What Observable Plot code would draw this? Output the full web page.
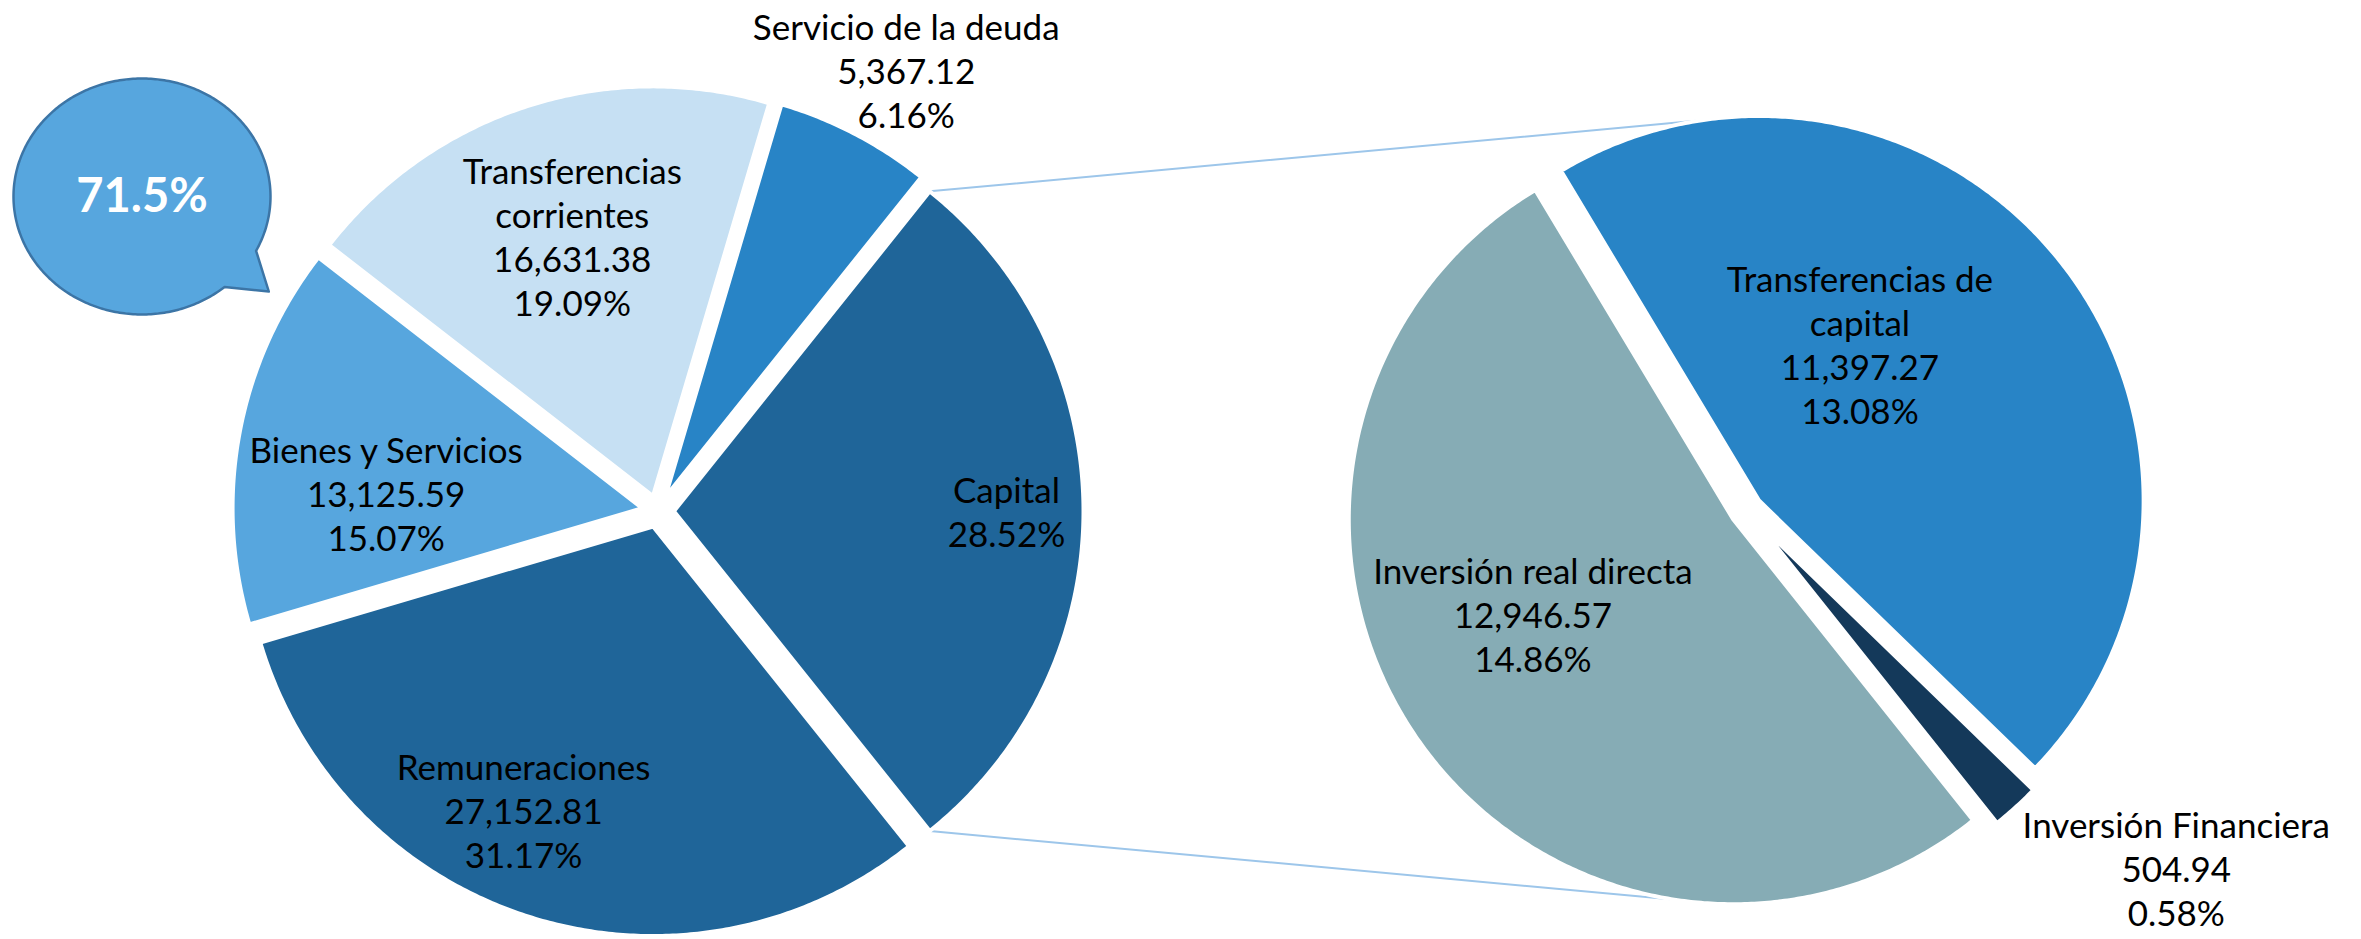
<!DOCTYPE html>
<html><head><meta charset="utf-8">
<script src="https://cdn.jsdelivr.net/npm/d3@7"></script>
<script src="https://cdn.jsdelivr.net/npm/@observablehq/plot@0.6"></script>
<style>body{margin:0;background:#fff}#chart svg{display:block}</style>
</head><body><div id="chart"></div>
<script>
// ---------- DATA ----------
const mainCategories = ["Remuneraciones", "Bienes y Servicios", "Transferencias corrientes", "Servicio de la deuda"];
const mainValues = [27152.81, 13125.59, 16631.38, 5367.12];
const capitalCategories = ["Transferencias de capital", "Inversión Financiera", "Inversión real directa"];
const capitalValues = [11397.27, 504.94, 12946.57];
const otherName = "Capital";

// ---------- STYLE / LAYOUT ----------
const W = 2361, H = 939;
const displayNames = {
  "Transferencias corrientes": "Transferencias\ncorrientes",
  "Transferencias de capital": "Transferencias de\ncapital"
};
const colors = {
  "Capital": "#1f6599",
  "Remuneraciones": "#1f6599",
  "Bienes y Servicios": "#57a6de",
  "Transferencias corrientes": "#c6e0f3",
  "Servicio de la deuda": "#2884c6",
  "Transferencias de capital": "#2884c6",
  "Inversión Financiera": "#14395a",
  "Inversión real directa": "#86acb5"
};
// label placement: [angle offset from slice bisector (deg), radius fraction]
const labelPlace = {
  "Capital": [0, 0.851],
  "Remuneraciones": [6.8, 0.799],
  "Bienes y Servicios": [-6.8, 0.665],
  "Transferencias corrientes": [0.6, 0.704],
  "Servicio de la deuda": [1.8, 1.236],
  "Transferencias de capital": [-17.3, 0.524],
  "Inversión Financiera": [-8.0, 1.454],
  "Inversión real directa": [8.95, 0.617]
};
const leftPie = {cx: 657.4, cy: 510.7, r: 409.6};
const rightPie = {cx: 1746, cy: 510, r: 384.6};
const EXPLODE = 16;
const rightStart = -31; // degrees clockwise from 12 o'clock
const connectorAngles = {top: -8.6, bottom: 189}; // on second pie
const bubble = {cx: 141.5, cy: 196, rx: 128.5, ry: 118, t0: 50, t1: 387.4, tip: [268.3, 291]};

// ---------- COMPUTE ----------
const capitalTotal = d3.sum(capitalValues);
const total = capitalTotal + d3.sum(mainValues);
const fmtV = d3.format(",.2f");
const fmtP = d3.format(".2%");
const rad = Math.PI / 180;
const dir = a => [Math.sin(a * rad), -Math.cos(a * rad)];

function buildSlices(names, values, pie, start) {
  const sum = d3.sum(values);
  let a = start;
  return names.map((name, i) => {
    const span = values[i] / sum * 360;
    const s = {name, value: values[i], a0: a, a1: a + span, mid: a + span / 2, pie};
    a += span;
    return s;
  });
}
const leftNames = [otherName, ...mainCategories];
const leftVals = [capitalTotal, ...mainValues];
const capSpan = capitalTotal / total * 360;
const leftSlices = buildSlices(leftNames, leftVals, leftPie, 90 - capSpan / 2);
const rightSlices = buildSlices(capitalCategories, capitalValues, rightPie, rightStart);
const allSlices = [...leftSlices, ...rightSlices];

function apexOf(s) {
  const d = dir(s.mid);
  return [s.pie.cx + EXPLODE * d[0], s.pie.cy + EXPLODE * d[1]];
}
const slicePts = [];
for (const s of allSlices) {
  const [ax, ay] = apexOf(s);
  slicePts.push({key: s.name, x: ax, y: ay, color: colors[s.name]});
  const n = Math.max(2, Math.ceil((s.a1 - s.a0) / 0.5));
  for (let k = 0; k <= n; k++) {
    const a = s.a0 + (s.a1 - s.a0) * k / n;
    const d = dir(a);
    slicePts.push({key: s.name, x: ax + s.pie.r * d[0], y: ay + s.pie.r * d[1], color: colors[s.name]});
  }
}

// connectors: from the "Capital" slice corners to the second pie
const cap = leftSlices[0];
const [capx, capy] = apexOf(cap);
const tdc = rightSlices[0], ird = rightSlices[2];
const [tx, ty] = apexOf(tdc), [ix, iy] = apexOf(ird);
const connPts = [
  {id: "top", x: capx + leftPie.r * dir(cap.a0)[0], y: capy + leftPie.r * dir(cap.a0)[1]},
  {id: "top", x: tx + rightPie.r * dir(connectorAngles.top)[0], y: ty + rightPie.r * dir(connectorAngles.top)[1]},
  {id: "bottom", x: capx + leftPie.r * dir(cap.a1)[0], y: capy + leftPie.r * dir(cap.a1)[1]},
  {id: "bottom", x: ix + rightPie.r * dir(connectorAngles.bottom)[0], y: iy + rightPie.r * dir(connectorAngles.bottom)[1]}
];

// labels
const labels = allSlices.map(s => {
  const [off, f] = labelPlace[s.name];
  const d = dir(s.mid + off);
  const nm = displayNames[s.name] || s.name;
  const text = s.name === otherName
    ? `${nm}\n${fmtP(s.value / total)}`
    : `${nm}\n${fmtV(s.value)}\n${fmtP(s.value / total)}`;
  return {x: s.pie.cx + f * s.pie.r * d[0], y: s.pie.cy + f * s.pie.r * d[1], text};
});

// bubble (callout showing the current-expenditure share)
const bubblePts = [];
for (let t = bubble.t0; t <= bubble.t1; t += 1) {
  bubblePts.push({x: bubble.cx + bubble.rx * Math.cos(t * rad), y: bubble.cy + bubble.ry * Math.sin(t * rad)});
}
bubblePts.push({x: bubble.cx + bubble.rx * Math.cos(bubble.t1 * rad), y: bubble.cy + bubble.ry * Math.sin(bubble.t1 * rad)});
bubblePts.push({x: bubble.tip[0], y: bubble.tip[1]});
const bubbleText = [{x: bubble.cx, y: bubble.cy, text: d3.format(".1%")(d3.sum(mainValues) / total)}];

const chart = Plot.plot({
  width: W, height: H, margin: 0,
  x: {domain: [0, W], range: [0, W], axis: null},
  y: {domain: [0, H], range: [0, H], axis: null},
  color: {type: "identity"},
  style: {background: "white", fontFamily: "Lato, 'Open Sans', sans-serif"},
  marks: [
    Plot.line(connPts, {x: "x", y: "y", z: "id", stroke: "#9dc6ea", strokeWidth: 2}),
    Plot.line(slicePts, {x: "x", y: "y", z: "key", fill: "color", stroke: "white", strokeWidth: 4,
      strokeLinejoin: "miter", strokeMiterlimit: 40, curve: "linear-closed"}),
    Plot.line(bubblePts, {x: "x", y: "y", fill: "#57a6de", stroke: "#3c75a6", strokeWidth: 2.5,
      curve: "linear-closed", strokeLinejoin: "round"}),
    Plot.text(bubbleText, {x: "x", y: "y", text: "text", fill: "white", fontWeight: "bold", fontSize: 47}),
    Plot.text(labels, {x: "x", y: "y", text: "text", fill: "black", fontSize: 35, lineHeight: 1.257, lineAnchor: "middle"})
  ]
});
document.getElementById("chart").appendChild(chart);
</script>
</body></html>
